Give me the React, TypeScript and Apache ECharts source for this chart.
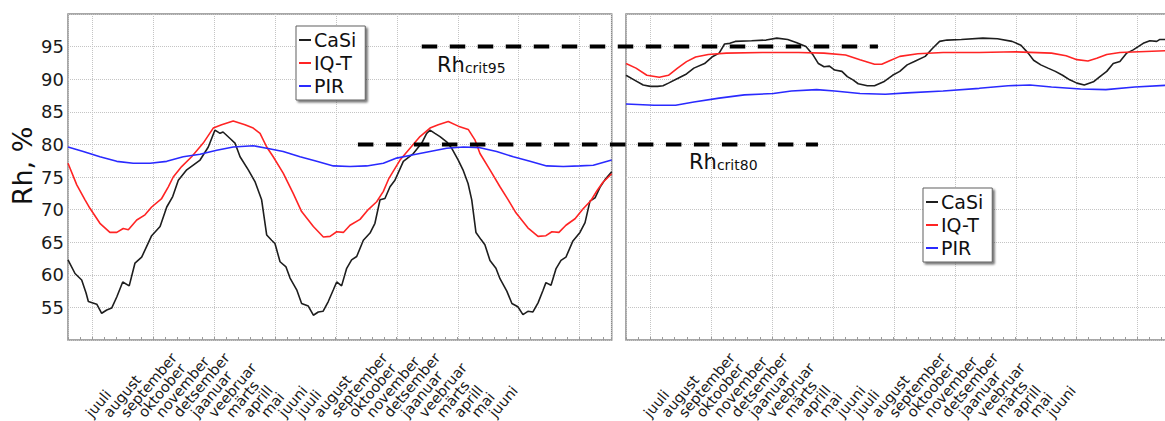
import React, { useEffect, useRef } from "react";
import * as echarts from "echarts";

// Month names of one hydrological year (July..June); each panel shows two years.
const monthNames = [
  "juuli", "august", "september", "oktoober", "november", "detsember",
  "jaanuar", "veebruar", "märts", "aprill", "mai", "juuni",
];
// 31 month-wide bands per panel: one leading blank, 24 months, trailing blanks.
const monthBands = ["", ...monthNames, ...monthNames, "", "", "", "", "", ""];

const seriesNames = ["CaSi", "IQ-T", "PIR"];
const seriesColors = ["#1e1e1e", "#ff2424", "#2a2aff"];

// x = months from the panel's left edge, y = relative humidity (%)
const casiLeft: [number, number][] = [
  [0.0, 62.3], [0.4, 60.2], [0.78, 59.2], [1.03, 57.2], [1.16, 55.9], [1.64, 55.5], [1.92, 54.1],
  [2.21, 54.6], [2.49, 54.9], [2.78, 56.6], [3.12, 58.9], [3.49, 58.3], [3.82, 61.8], [4.2, 62.7],
  [4.77, 66.0], [5.25, 67.4], [5.63, 70.4], [5.97, 72.0], [6.29, 74.5], [6.77, 76.1], [7.53, 77.6],
  [8.0, 79.6], [8.38, 82.2], [8.67, 81.7], [8.84, 81.9], [9.24, 80.9], [9.52, 80.2], [9.81, 78.1],
  [10.28, 76.1], [10.66, 74.3], [11.04, 71.5], [11.33, 66.1], [11.61, 65.3], [11.8, 64.8],
  [12.09, 62.0], [12.43, 61.2], [12.66, 59.5], [13.04, 57.7], [13.32, 55.6], [13.7, 55.2],
  [13.99, 53.8], [14.27, 54.3], [14.54, 54.4], [14.84, 55.9], [15.13, 57.7], [15.32, 58.9],
  [15.6, 58.3], [15.89, 61.0], [16.17, 62.3], [16.46, 62.8], [16.84, 65.3], [17.22, 66.4],
  [17.5, 67.9], [17.79, 71.5], [18.07, 71.7], [18.36, 73.5], [18.64, 74.5], [19.12, 77.4],
  [19.69, 78.6], [20.17, 80.2], [20.45, 81.7], [20.64, 82.2], [20.92, 81.7], [21.21, 81.2],
  [21.59, 80.4], [21.88, 79.4], [22.25, 77.6], [22.52, 76.1], [22.81, 74.0], [23.02, 71.5],
  [23.26, 66.5], [23.55, 65.4], [23.77, 64.6], [24.06, 62.2], [24.4, 61.0], [24.63, 59.4],
  [25.02, 57.5], [25.31, 55.6], [25.65, 55.1], [25.94, 53.9], [26.22, 54.4], [26.51, 54.3],
  [26.8, 55.7], [27.08, 57.6], [27.25, 58.8], [27.54, 58.4], [27.82, 60.9], [28.11, 62.2],
  [28.39, 62.7], [28.79, 65.2], [29.19, 66.5], [29.48, 68.0], [29.76, 71.3], [30.05, 71.8],
  [30.33, 73.4], [30.62, 74.6], [31.0, 75.8],
];
const iqtLeft: [number, number][] = [
  [0.0, 77.1], [0.5, 73.8], [0.97, 71.5], [1.25, 70.2], [1.82, 67.9], [2.39, 66.5], [2.78, 66.5],
  [3.15, 67.1], [3.44, 66.9], [3.92, 68.4], [4.39, 69.2], [4.77, 70.4], [5.34, 71.7], [5.72, 73.5],
  [6.0, 75.0], [6.48, 76.6], [7.05, 78.1], [7.71, 80.2], [8.28, 82.5], [8.76, 83.0], [9.42, 83.6],
  [10.09, 83.0], [10.56, 82.5], [10.95, 81.7], [11.33, 79.6], [11.7, 78.1], [12.27, 75.6],
  [12.84, 72.5], [13.32, 69.7], [13.99, 67.4], [14.56, 65.8], [14.94, 65.9], [15.32, 66.6],
  [15.7, 66.5], [16.08, 67.6], [16.65, 68.5], [17.12, 70.0], [17.6, 71.2], [17.98, 72.8],
  [18.3, 74.8], [18.93, 77.6], [19.5, 79.4], [20.07, 81.2], [20.64, 82.5], [21.11, 83.0],
  [21.68, 83.5], [22.25, 82.8], [22.82, 82.3], [23.2, 80.7], [23.49, 78.6], [24.06, 76.1],
  [24.63, 73.5], [25.1, 71.5], [25.54, 69.5], [26.22, 67.2], [26.8, 65.9], [27.25, 66.0],
  [27.59, 66.6], [27.99, 66.5], [28.39, 67.6], [28.91, 68.6], [29.36, 70.1], [29.82, 71.4],
  [30.16, 72.9], [30.5, 74.2], [31.0, 75.5],
];
const pirLeft: [number, number][] = [
  [0.0, 79.6], [0.87, 78.9], [1.82, 78.1], [2.78, 77.4], [3.72, 77.1], [4.68, 77.1], [5.63, 77.4],
  [6.57, 78.1], [7.53, 78.5], [8.48, 79.1], [9.42, 79.6], [10.56, 79.8], [11.33, 79.4],
  [12.27, 78.9], [13.23, 78.1], [14.18, 77.4], [15.13, 76.7], [16.08, 76.6], [17.03, 76.7],
  [17.98, 77.1], [18.74, 77.9], [19.69, 78.4], [20.64, 78.9], [21.59, 79.4], [22.54, 79.6],
  [23.49, 79.5], [24.44, 78.9], [25.39, 78.1], [26.34, 77.4], [27.29, 76.7], [28.24, 76.6],
  [29.19, 76.7], [29.95, 76.8], [31.0, 77.6],
];

const casiRight: [number, number][] = [
  [0.0, 90.6], [0.46, 89.9], [0.98, 89.1], [1.39, 88.9], [1.8, 88.9], [2.11, 89.0], [2.42, 89.4],
  [2.94, 90.1], [3.45, 90.8], [3.87, 91.7], [4.48, 92.4], [4.9, 93.4], [5.31, 94.0], [5.62, 95.4],
  [5.92, 95.5], [6.23, 95.8], [7.16, 95.9], [7.99, 96.0], [8.6, 96.3], [9.22, 96.1], [9.74, 95.6],
  [10.26, 95.0], [10.67, 93.7], [10.97, 92.4], [11.29, 91.9], [11.6, 92.0], [11.9, 91.4],
  [12.31, 91.2], [12.62, 90.4], [12.94, 89.9], [13.24, 89.3], [13.76, 89.0], [14.17, 89.0],
  [14.69, 89.6], [15.2, 90.6], [15.61, 91.2], [16.03, 92.2], [16.44, 92.7], [17.06, 93.5],
  [17.47, 94.7], [17.88, 95.8], [18.3, 96.0], [19.12, 96.1], [20.35, 96.3], [21.18, 96.2],
  [22.01, 95.8], [22.52, 95.2], [22.93, 94.0], [23.24, 92.9], [23.65, 92.2], [24.06, 91.7],
  [24.48, 91.2], [24.89, 90.6], [25.3, 89.9], [25.71, 89.4], [26.13, 89.1], [26.65, 89.6],
  [27.02, 90.4], [27.41, 91.2], [27.78, 92.4], [28.16, 92.7], [28.55, 94.0], [28.92, 94.5],
  [29.49, 95.5], [29.87, 95.9], [30.26, 95.8], [30.44, 96.1], [31.0, 96.1],
];
const iqtRight: [number, number][] = [
  [0.0, 92.4], [0.57, 91.7], [1.19, 90.6], [1.9, 90.3], [2.42, 90.6], [2.94, 91.7], [3.45, 92.7],
  [3.97, 93.4], [4.69, 93.8], [5.72, 94.0], [7.78, 94.1], [9.84, 94.1], [11.28, 94.0],
  [12.52, 93.7], [13.34, 93.0], [14.17, 92.3], [14.58, 92.3], [15.0, 92.8], [15.61, 93.5],
  [16.64, 93.9], [18.08, 94.1], [20.14, 94.1], [22.21, 94.2], [24.26, 94.0], [25.09, 93.6],
  [25.71, 93.0], [26.34, 92.8], [26.84, 93.2], [27.41, 93.8], [28.16, 94.1], [31.0, 94.4],
];
const pirRight: [number, number][] = [
  [0.0, 86.2], [1.6, 86.0], [2.83, 86.0], [3.87, 86.5], [5.31, 87.1], [6.75, 87.6], [8.4, 87.8],
  [9.43, 88.2], [10.87, 88.4], [11.9, 88.2], [13.34, 87.8], [14.79, 87.7], [16.03, 87.9],
  [18.08, 88.2], [20.14, 88.6], [21.79, 89.0], [23.03, 89.1], [24.26, 88.8], [25.92, 88.5],
  [27.36, 88.4], [29.01, 88.8], [31.0, 89.1],
];

// Critical humidity levels, spanning both panels (months from the left panel's edge)
const crit95: [number, number][] = [[20.17, 95], [46.18, 95]];
const crit80: [number, number][] = [[16.53, 80], [42.76, 80]];

const FONT = "DejaVu Sans";
const PANEL_W = 543.7;
const PANEL_TOP = 14;
const PANEL_H = 326;
const GRID_STEP_PX = 60.85;
const GRID_OFFSET_PX = 24.7;
const TICK_STEP_PX = 12.17;

function panelAxes(gridIndex: number, isLeftPanel: boolean) {
  const dotted = { type: "dotted", color: "#c4c4c4", width: 1 };
  const hidden = { show: false };
  const gridMin = -GRID_OFFSET_PX / GRID_STEP_PX;
  return {
    x: [
      // data scale (months)
      { type: "value", gridIndex, min: 0, max: 31, show: false, position: "bottom" },
      // vertical grid lines
      {
        type: "value", gridIndex, position: "bottom",
        min: gridMin, max: gridMin + PANEL_W / GRID_STEP_PX,
        minInterval: 1, maxInterval: 1,
        axisLine: { show: false, onZero: false }, axisTick: hidden, axisLabel: hidden,
        splitLine: { show: true, lineStyle: dotted },
      },
      // small inside ticks along the bottom edge
      {
        type: "value", gridIndex, position: "bottom",
        min: 0, max: PANEL_W / TICK_STEP_PX, interval: 1,
        axisLine: { show: false, onZero: false }, axisLabel: hidden, splitLine: hidden,
        axisTick: { show: true, inside: true, length: 3, lineStyle: { color: "#9a9a9a", width: 1 } },
      },
      // month labels
      {
        type: "category", gridIndex, position: "bottom", data: monthBands, boundaryGap: true,
        axisLine: { show: false, onZero: false }, axisTick: hidden, splitLine: hidden,
        axisLabel: {
          interval: 0, rotate: 50, align: "left", verticalAlign: "bottom", margin: 80,
          fontSize: 14.5, fontFamily: FONT, color: "#1a1a1a",
        },
      },
    ],
    y: {
      type: "value", gridIndex, position: "left", min: 50, max: 100, interval: 5,
      axisLine: { show: false }, axisTick: { show: false },
      splitLine: { show: true, lineStyle: dotted },
      axisLabel: {
        show: isLeftPanel, margin: 4, fontSize: 18, fontFamily: FONT, color: "#1a1a1a",
        formatter: (v: number) => (v === 50 || v === 100 ? "" : String(v)),
      },
    },
  };
}

function legendAt(left: number, top: number) {
  return {
    data: seriesNames, orient: "vertical", left, top,
    icon: "rect", itemWidth: 12, itemHeight: 2, itemGap: 3,
    padding: [4, 9, 4, 3], selectedMode: false,
    backgroundColor: "#ffffff", borderColor: "#606060", borderWidth: 1, borderRadius: 0,
    shadowColor: "rgba(0,0,0,0.55)", shadowBlur: 2, shadowOffsetX: 2, shadowOffsetY: 2,
    textStyle: { fontSize: 19, fontFamily: FONT, color: "#111", lineHeight: 20, padding: [0, 0, 0, -2] },
  };
}

export default function App() {
  const ref = useRef<HTMLDivElement>(null);

  useEffect(() => {
    if (!ref.current) return;
    const chart = echarts.init(ref.current, undefined, { renderer: "svg" });
    const left = panelAxes(0, true);
    const right = panelAxes(1, false);

    const line = (name: string, data: [number, number][], xi: number, yi: number, color: string) => ({
      type: "line", name, data, xAxisIndex: xi, yAxisIndex: yi,
      showSymbol: false, symbol: "none", silent: true, z: 3,
      lineStyle: { color, width: 1.6 }, itemStyle: { color },
    });
    const critLine = (name: string, data: [number, number][]) => ({
      type: "line", name, data, xAxisIndex: 8, yAxisIndex: 2,
      showSymbol: false, symbol: "none", silent: true, z: 10,
      lineStyle: { color: "#000", width: 4, type: [15.5, 12.5] }, itemStyle: { color: "#000" },
    });

    chart.setOption({
      animation: false,
      textStyle: { fontFamily: FONT },
      grid: [
        { left: 68, top: PANEL_TOP, width: PANEL_W, height: PANEL_H, show: true, borderColor: "#8a8a8a", borderWidth: 1.5, backgroundColor: "transparent", containLabel: false, outerBoundsMode: "none" },
        { left: 626, top: PANEL_TOP, width: PANEL_W, height: PANEL_H, show: true, borderColor: "#8a8a8a", borderWidth: 1.5, backgroundColor: "transparent", containLabel: false, outerBoundsMode: "none" },
        { left: 68, top: PANEL_TOP, right: 0, height: PANEL_H, show: false, containLabel: false, outerBoundsMode: "none" },
      ],
      xAxis: [
        ...left.x,
        ...right.x,
        { type: "value", gridIndex: 2, min: 0, max: (1165 - 68) / (PANEL_W / 31), show: false, position: "bottom" },
      ],
      yAxis: [
        left.y,
        right.y,
        { type: "value", gridIndex: 2, min: 50, max: 100, show: false, position: "left" },
      ],
      legend: [legendAt(296, 26), legendAt(923, 188)],
      series: [
        line(seriesNames[0], casiLeft, 0, 0, seriesColors[0]),
        line(seriesNames[1], iqtLeft, 0, 0, seriesColors[1]),
        line(seriesNames[2], pirLeft, 0, 0, seriesColors[2]),
        line(seriesNames[0], casiRight, 4, 1, seriesColors[0]),
        line(seriesNames[1], iqtRight, 4, 1, seriesColors[1]),
        line(seriesNames[2], pirRight, 4, 1, seriesColors[2]),
        critLine("crit95", crit95),
        critLine("crit80", crit80),
      ],
      graphic: [
        {
          type: "text", x: 22, y: 166, rotation: Math.PI / 2, silent: true,
          style: { text: "Rh, %", fontSize: 27, fontFamily: FONT, fill: "#111", align: "center", verticalAlign: "middle" },
        },
        {
          type: "text", x: 437, y: 75, silent: true,
          style: {
            text: "{a|Rh}{b|crit95}", verticalAlign: "bottom", align: "left",
            rich: {
              a: { fontSize: 21, fontFamily: FONT, fill: "#111", verticalAlign: "bottom" },
              b: { fontSize: 14, fontFamily: FONT, fill: "#111", verticalAlign: "bottom" },
            },
          },
        },
        {
          type: "text", x: 689, y: 172, silent: true,
          style: {
            text: "{a|Rh}{b|crit80}", verticalAlign: "bottom", align: "left",
            rich: {
              a: { fontSize: 21, fontFamily: FONT, fill: "#111", verticalAlign: "bottom" },
              b: { fontSize: 14, fontFamily: FONT, fill: "#111", verticalAlign: "bottom" },
            },
          },
        },
      ],
    });
    return () => chart.dispose();
  }, []);

  return (
    <div
      ref={ref}
      style={{ position: "fixed", left: 0, top: 0, width: 1165, height: 421, background: "#fff" }}
    />
  );
}
